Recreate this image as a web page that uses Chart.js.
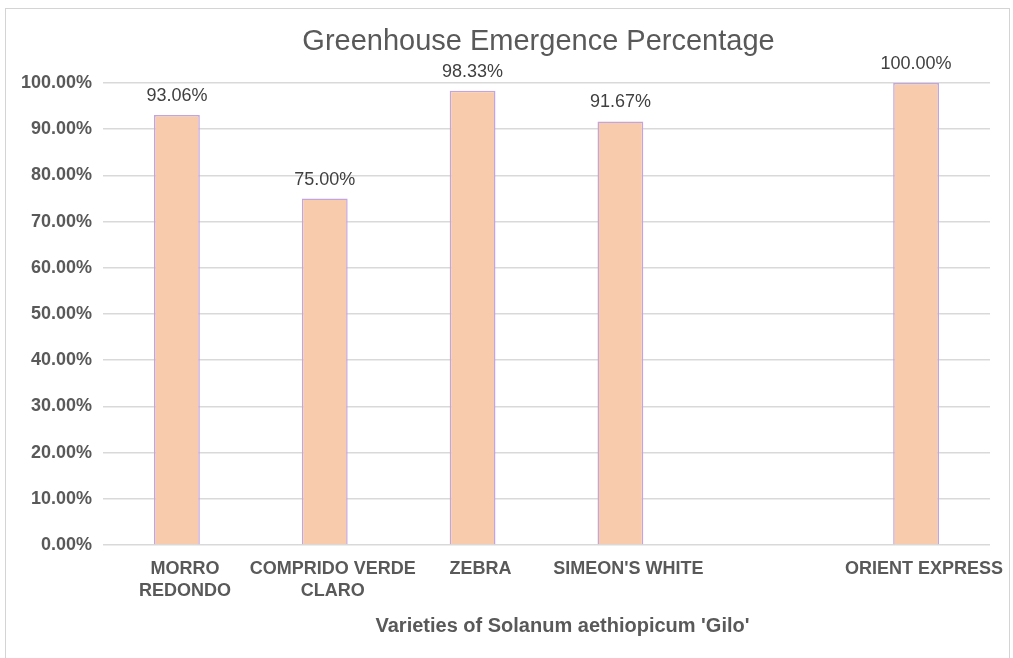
<!DOCTYPE html>
<html>
<head>
<meta charset="utf-8">
<script src="https://cdn.jsdelivr.net/npm/chart.js@4/dist/chart.umd.min.js"></script>
<style>
  html, body { margin: 0; padding: 0; background: #ffffff; }
  #wrap { position: relative; width: 1013px; height: 658px; }
  canvas { display: block; }
</style>
</head>
<body>
<div id="wrap"><canvas id="chart" width="1013" height="658"></canvas></div>
<script>
// Varieties (one empty slot keeps the gap before the last variety)
const varieties = [
  ['MORRO', 'REDONDO'],
  ['COMPRIDO VERDE', 'CLARO'],
  'ZEBRA',
  "SIMEON'S WHITE",
  '',
  'ORIENT EXPRESS'
];
// Emergence in the greenhouse, percent
const emergence = [93.06, 75.00, 98.33, 91.67, null, 100.00];
// Value axis ticks
const yTicks = [0, 10, 20, 30, 40, 50, 60, 70, 80, 90, 100];

const chartTitle = 'Greenhouse Emergence Percentage';
const xAxisTitle = "Varieties of Solanum aethiopicum 'Gilo'";

const FONT = "'Liberation Sans', Arial, Helvetica, sans-serif";
const GREY = '#595959';

// White page and the thin frame around the chart
const framePlugin = {
  id: 'frame',
  beforeDraw(chart) {
    const ctx = chart.ctx;
    ctx.save();
    ctx.fillStyle = '#ffffff';
    ctx.fillRect(0, 0, chart.width, chart.height);
    ctx.strokeStyle = '#d4d4d4';
    ctx.lineWidth = 1;
    ctx.strokeRect(5.5, 8.5, chart.width - 9, chart.height + 20);
    ctx.restore();
  }
};

// Value labels above each bar
const valueLabels = {
  id: 'valueLabels',
  afterDatasetsDraw(chart) {
    const ctx = chart.ctx;
    const meta = chart.getDatasetMeta(0);
    const data = chart.data.datasets[0].data;
    ctx.save();
    ctx.font = '18px ' + FONT;
    ctx.fillStyle = '#404040';
    ctx.textAlign = 'center';
    ctx.textBaseline = 'alphabetic';
    meta.data.forEach((bar, i) => {
      if (data[i] == null) return;
      ctx.fillText(data[i].toFixed(2) + '%', bar.x, bar.y - 14);
    });
    ctx.restore();
  }
};

// Chart title and category axis title, both set a little right of the plot centre
const titles = {
  id: 'titles',
  afterDraw(chart) {
    const ctx = chart.ctx;
    const a = chart.chartArea;
    const mid = (a.left + a.right) / 2;
    ctx.save();
    ctx.fillStyle = GREY;
    ctx.textAlign = 'center';
    ctx.textBaseline = 'alphabetic';
    ctx.font = '29px ' + FONT;
    ctx.fillText(chartTitle, mid - 8, 50);
    ctx.font = 'bold 20px ' + FONT;
    ctx.fillText(xAxisTitle, mid + 16, 632);
    ctx.restore();
  }
};

new Chart(document.getElementById('chart'), {
  type: 'bar',
  data: {
    labels: varieties,
    datasets: [{
      data: emergence,
      backgroundColor: '#F8CBAD',
      borderColor: '#C3A5DE',
      borderWidth: 1.5,
      categoryPercentage: 1.0,
      barPercentage: 0.31
    }]
  },
  options: {
    responsive: false,
    animation: false,
    devicePixelRatio: 1,
    layout: { padding: { left: 0, right: 23, top: 83, bottom: 0 } },
    plugins: {
      legend: { display: false },
      tooltip: { enabled: false },
      title: { display: false }
    },
    scales: {
      x: {
        grid: { display: false, drawTicks: false },
        border: { display: false },
        ticks: {
          color: GREY,
          font: { family: FONT, size: 18, weight: 'bold', lineHeight: 1.17 },
          padding: 14,
          labelOffset: 8,
          maxRotation: 0,
          autoSkip: false
        },
        afterFit(scale) { scale.height = 113; }
      },
      y: {
        min: 0,
        max: 100,
        afterBuildTicks(scale) { scale.ticks = yTicks.map(v => ({ value: v })); },
        grid: { color: '#D9D9D9', lineWidth: 1.5, drawTicks: false },
        border: { display: false },
        ticks: {
          color: GREY,
          font: { family: FONT, size: 18, weight: 'bold' },
          padding: 11,
          callback: v => Number(v).toFixed(2) + '%'
        },
        afterFit(scale) { scale.width = 103; }
      }
    }
  },
  plugins: [framePlugin, valueLabels, titles]
});
</script>
</body>
</html>
